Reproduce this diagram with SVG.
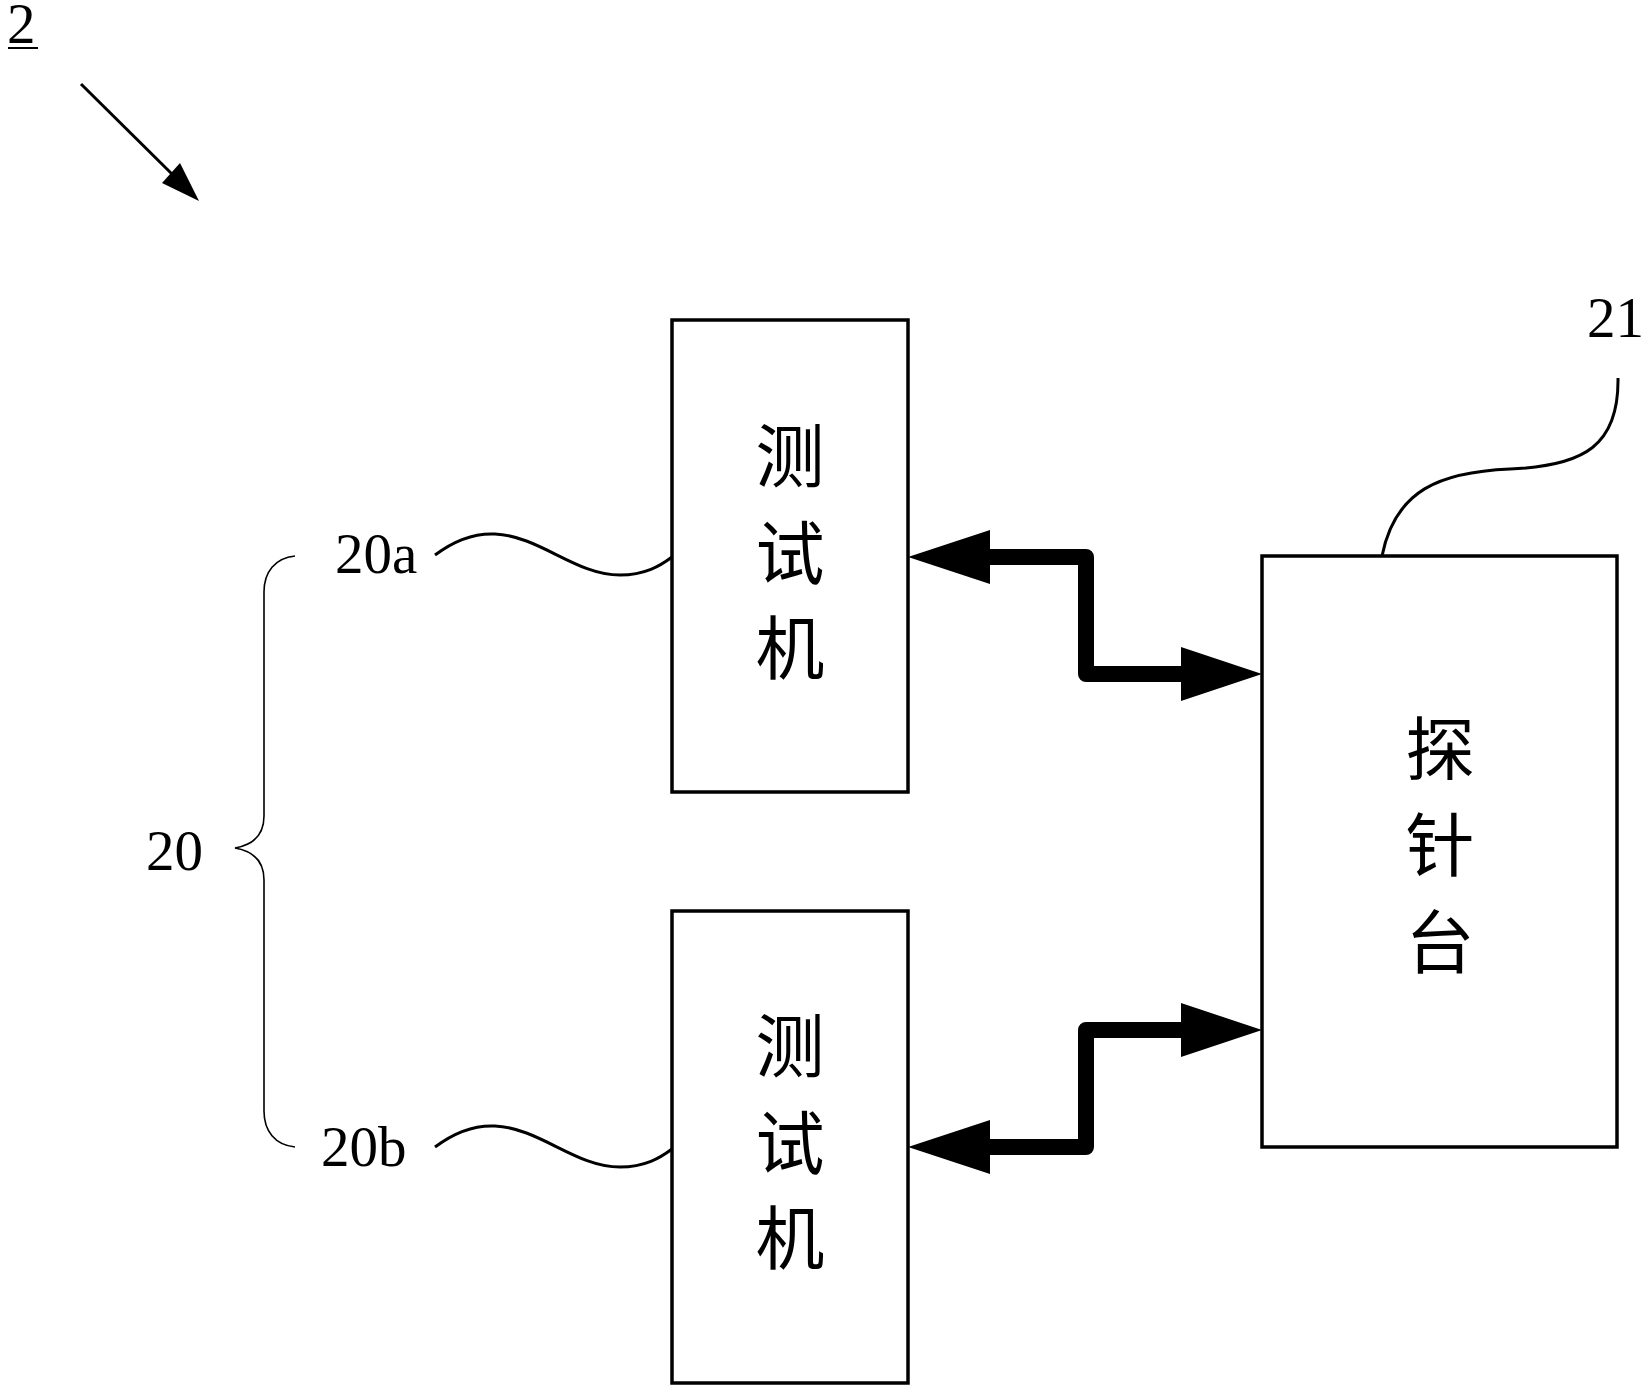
<svg xmlns="http://www.w3.org/2000/svg" width="1648" height="1392" viewBox="0 0 1648 1392">
<style>
.box{fill:#fff;stroke:#000;stroke-width:3.5}
.cjk{font-family:"Noto Sans CJK SC","Noto Sans CJK JP",sans-serif;font-size:69px;fill:#000;text-anchor:middle}
.lbl{font-family:"Liberation Serif","Times New Roman",serif;font-size:57px;fill:#000}
.lead{fill:none;stroke:#000;stroke-width:3}
.brace{fill:none;stroke:#000;stroke-width:1.6}
.shaft{fill:none;stroke:#000;stroke-width:16;stroke-linejoin:round}
.head{fill:#000}
</style>
<rect width="1648" height="1392" fill="#fff"/>
<g id="label-2">
<text class="lbl" x="7" y="43" font-size="55">2</text>
<line x1="8" y1="48" x2="38" y2="48" stroke="#000" stroke-width="2"/>
<line x1="81" y1="84" x2="175" y2="177" stroke="#000" stroke-width="3"/>
<polygon class="head" points="199,201 162,183 180,163"/>
</g>
<g id="tester-a">
<rect class="box" x="672" y="320" width="236" height="472"/>
<text class="cjk" x="790" y="482">测</text>
<text class="cjk" x="790" y="579">试</text>
<text class="cjk" x="790" y="674">机</text>
</g>
<g id="tester-b">
<rect class="box" x="672" y="911" width="236" height="472"/>
<text class="cjk" x="790" y="1072">测</text>
<text class="cjk" x="790" y="1169">试</text>
<text class="cjk" x="790" y="1264">机</text>
</g>
<g id="prober">
<rect class="box" x="1262" y="556" width="355" height="591"/>
<text class="cjk" x="1440" y="775">探</text>
<text class="cjk" x="1440" y="871">针</text>
<text class="cjk" x="1440" y="968">台</text>
</g>
<g id="labels">
<text class="lbl" x="1587" y="337" font-size="56">21</text>
<text class="lbl" x="335" y="573">20a</text>
<text class="lbl" x="321" y="1166">20b</text>
<text class="lbl" x="146" y="870">20</text>
<path class="lead" d="M1618,378 C1619,445 1585,466 1510,469 C1440,472 1395,490 1382,556"/>
<path class="lead" d="M435,555 C455,540 475,533 495,534 C540,536 575,575 620,575 C645,575 660,566 672,557"/>
<path class="lead" d="M435,1147 C455,1132 475,1125 495,1126 C540,1128 575,1167 620,1167 C645,1167 660,1158 672,1149"/>
<path class="brace" d="M295,556 C275,558 264,572 264,592 L264,816 C264,836 252,845 235,848 C252,851 264,860 264,880 L264,1111 C264,1131 275,1145 295,1147"/>
</g>
<g id="connectors">
<path class="shaft" d="M985,557 L1086,557 L1086,674 L1185,674"/>
<polygon class="head" points="908,557 990,530 990,584"/>
<polygon class="head" points="1262,674 1181,647 1181,701"/>
<path class="shaft" d="M985,1147 L1086,1147 L1086,1030 L1185,1030"/>
<polygon class="head" points="908,1147 990,1120 990,1174"/>
<polygon class="head" points="1262,1030 1181,1003 1181,1057"/>
</g>
</svg>
